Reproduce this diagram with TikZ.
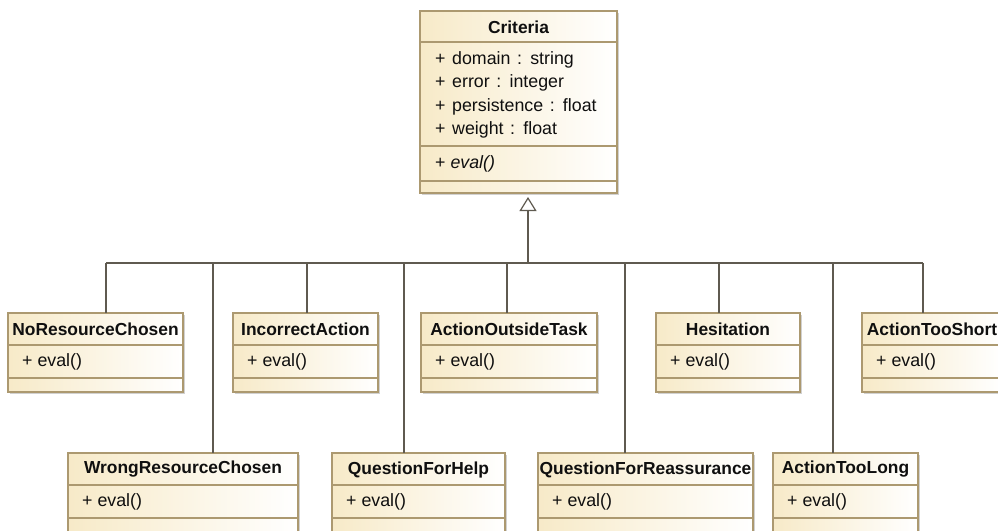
\documentclass[tikz,border=0pt]{standalone}
\usepackage{fontspec}
\setmainfont{Liberation Sans}
\usetikzlibrary{arrows.meta,shadows}
\definecolor{umlborder}{RGB}{172,153,112}
\definecolor{umlfill}{RGB}{247,234,200}
\definecolor{umlline}{RGB}{95,90,80}
\definecolor{umltext}{RGB}{15,15,15}
\tikzset{
  umlbox/.style={draw=umlborder, line width=1.2pt, left color=umlfill, right color=white,
    inner sep=0pt, outer sep=0pt, minimum height=79pt,
    drop shadow={shadow xshift=2pt, shadow yshift=-2pt, fill=black, opacity=0.18}},
  sepline/.style={draw=umlborder, line width=1.2pt},
  titletext/.style={font=\fontsize{17.4}{20}\selectfont\bfseries, text=umltext, inner sep=0pt},
  membtext/.style={font=\fontsize{17.8}{23.3}\selectfont, text=umltext, inner sep=0pt, anchor=west, align=left},
  conn/.style={draw=umlline, line width=1.2pt},
}
\newcommand\childbox[5]{%
  \node[umlbox, minimum width=#4pt, anchor=north west] (#1) at (#2,#3) {};
  \draw[sepline] ([yshift=-32pt]#1.north west) -- ([yshift=-32pt]#1.north east);
  \draw[sepline] ([yshift=-65pt]#1.north west) -- ([yshift=-65pt]#1.north east);
  \node[titletext] (#1t) at ([yshift=-16.5pt]#1.north) {#5};
  \node[membtext] (#1m) at ([xshift=14pt,yshift=-49pt]#1.north west) {+ eval()};
}
\begin{document}
\begin{tikzpicture}[x=1pt,y=-1pt]
\useasboundingbox (0,0) rectangle (998,530);
\clip (0,0) rectangle (998,530);
\fill[white] (0,0) rectangle (998,530);
% Criteria
\node[umlbox, minimum width=197pt, minimum height=182pt, anchor=north west] (crit) at (420,11) {};
\draw[sepline] ([yshift=-31pt]crit.north west) -- ([yshift=-31pt]crit.north east);
\draw[sepline] ([yshift=-135pt]crit.north west) -- ([yshift=-135pt]crit.north east);
\draw[sepline] ([yshift=-170pt]crit.north west) -- ([yshift=-170pt]crit.north east);
\node[titletext] (critt) at ([yshift=-16pt]crit.north) {Criteria};
\node[membtext, execute at begin node={\spaceskip=6.6pt plus 1pt}] (crita) at ([xshift=15pt,yshift=-84pt]crit.north west)
  {+ domain : string\\+ error : integer\\+ persistence : float\\+ weight : float};
\node[membtext] (critm) at ([xshift=15pt,yshift=-153pt]crit.north west) {+ \textit{eval()}};
% children
\childbox{nrc}{8}{313}{175}{NoResourceChosen}
\childbox{ia}{233}{313}{145}{IncorrectAction}
\childbox{aot}{421}{313}{176}{ActionOutsideTask}
\childbox{hes}{656}{313}{144}{Hesitation}
\childbox{ats}{862}{313}{140}{ActionTooShort}
\childbox{wrc}{68}{453}{230}{WrongResourceChosen}
\childbox{qfh}{332}{453}{173}{QuestionForHelp}
\childbox{qfr}{538}{453}{215}{QuestionForReassurance}
\childbox{atl}{773}{453}{145}{ActionTooLong}
% connectors
\coordinate (hub) at (528,263);
\coordinate (d1) at (106,263);
\coordinate (d2) at (213,263);
\coordinate (d3) at (307,263);
\coordinate (d4) at (404,263);
\coordinate (d5) at (507,263);
\coordinate (d6) at (625,263);
\coordinate (d7) at (719,263);
\coordinate (d8) at (833,263);
\coordinate (d9) at (923,263);
\draw[conn] (d1) -- (d9);
\draw[conn] (d1) -- (d1 |- nrc.north);
\draw[conn] (d2) -- (d2 |- wrc.north);
\draw[conn] (d3) -- (d3 |- ia.north);
\draw[conn] (d4) -- (d4 |- qfh.north);
\draw[conn] (d5) -- (d5 |- aot.north);
\draw[conn] (d6) -- (d6 |- qfr.north);
\draw[conn] (d7) -- (d7 |- hes.north);
\draw[conn] (d8) -- (d8 |- atl.north);
\draw[conn] (d9) -- (d9 |- ats.north);
\draw[conn, -{Triangle[open, length=14pt, width=17pt, fill=white]}, shorten >=4pt] (hub) -- (hub |- crit.south);
\end{tikzpicture}
\end{document}
